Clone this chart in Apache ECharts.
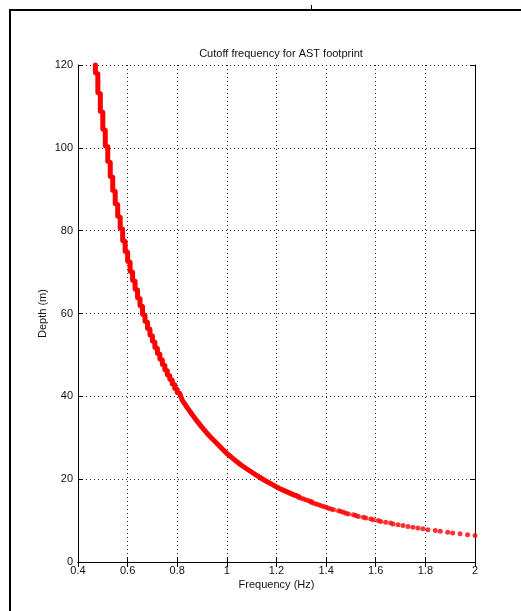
<!DOCTYPE html>
<html>
<head>
<meta charset="utf-8">
<script src="https://cdn.jsdelivr.net/npm/echarts@6/dist/echarts.min.js"></script>
<style>
html,body{margin:0;padding:0;background:#fff;}
#chart{width:521px;height:611px;}
</style>
</head>
<body>
<div id="chart"></div>
<script>
// ---- Data ----
const titleText = 'Cutoff frequency for AST footprint';
const xName = 'Frequency (Hz)';
const yName = 'Depth (m)';
const xTicks = [0.4, 0.6, 0.8, 1, 1.2, 1.4, 1.6, 1.8, 2];
const yTicks = [0, 20, 40, 60, 80, 100, 120];

// dense (overlapping) part of the curve: frequency (Hz) and depth (m)
const bandFreq = [0.47,0.47,0.48,0.48,0.49,0.49,0.50,0.50,0.51,0.51,0.52,0.52,0.53,0.53,0.54,0.54,0.55,0.55,0.56,0.56,0.57,0.57,0.58,0.58,0.59,0.59,0.60,0.60,0.61,0.61,0.62,0.62,0.63,0.63,0.64,0.64,0.65,0.65,0.66,0.66,0.67,0.67,0.68,0.68,0.69,0.69,0.70,0.70,0.71,0.71,0.72,0.72,0.73,0.73,0.74,0.74,0.75,0.75,0.76,0.76,0.77,0.77,0.78,0.78,0.79,0.79,0.80,0.80,0.81,
  0.82,0.84,0.86,0.88,0.90,0.92,0.94,0.96,0.98,1.00,1.03,1.06,1.09,1.12,1.15,1.18,1.21,1.24,1.27,1.28];
const bandDepth = [120,118.1,117.9,113.3,113.1,108.8,108.6,104.5,104.3,100.5,100.3,96.7,96.5,93.1,92.9,89.7,89.5,86.5,86.3,83.5,83.3,80.6,80.4,77.6,77.4,75.0,74.8,72.6,72.4,70.2,70.0,68.0,67.8,65.9,65.7,63.8,63.6,61.9,61.7,59.8,59.6,58.1,57.9,56.4,56.2,54.8,54.6,53.3,53.1,51.8,51.6,50.4,50.2,49.0,48.8,47.7,47.5,46.4,46.2,45.2,45.0,44.1,43.9,43.0,42.8,41.9,41.7,40.9,40.7,
  39.1,37.3,35.6,34.0,32.5,31.1,29.8,28.6,27.4,26.2,24.7,23.3,22.1,20.9,19.8,18.8,17.8,17.0,16.2,16.0];

// shallow part where the individual samples are visible
const dotDepth = [16.0,15.8,15.6,15.4,15.2,15.0,14.8,14.6,14.4,14.2,14.0,13.8,13.6,13.4,13.2,13.0,12.8,12.6,12.4,12.2,12.0,11.8,11.6,11.4,11.2,11.0,10.8,10.6,10.4,10.2,10.0,9.8,9.6,9.4,9.2,9.0,8.8,8.6,8.4,8.2,8.0,7.8,7.6,7.4,7.2,7.0,6.8,6.6,6.4];
const dotFreq = [1.28,1.29,1.29,1.30,1.31,1.32,1.33,1.34,1.34,1.35,1.36,1.37,1.38,1.39,1.40,1.41,1.42,1.43,1.45,1.46,1.47,1.48,1.49,1.51,1.52,1.53,1.55,1.56,1.58,1.59,1.61,1.62,1.64,1.66,1.67,1.69,1.71,1.73,1.75,1.77,1.79,1.81,1.84,1.86,1.89,1.91,1.94,1.97,2.00];

// ---- Chart ----
const FONT = 'Liberation Sans, Arial, sans-serif';
const bandData = bandFreq.map((f, i) => [f, bandDepth[i]]);
const dotData = dotFreq.map((f, i) => [f, dotDepth[i]]);

const xMin = xTicks[0], xMax = xTicks[xTicks.length - 1], xInt = xTicks[1] - xTicks[0];
const yMin = yTicks[0], yMax = yTicks[yTicks.length - 1], yInt = yTicks[1] - yTicks[0];

const axisLine = {show: true, lineStyle: {color: '#000', width: 1}};
const gridLine = {show: true, lineStyle: {color: '#222', width: 1, type: [1, 3]}};
const tick = {show: true, inside: true, length: 5, lineStyle: {color: '#000'}};
const lbl = {color: '#111', fontSize: 11, fontFamily: FONT};

const chart = echarts.init(document.getElementById('chart'), null, {renderer: 'canvas'});
chart.setOption({
  animation: false,
  backgroundColor: '#fff',
  title: {
    text: titleText, left: 276, top: 43, textAlign: 'center',
    textStyle: {fontSize: 11, fontWeight: 'normal', color: '#111', fontFamily: FONT}
  },
  grid: {left: 78, right: 46, top: 65, bottom: 49, containLabel: false},
  xAxis: [{
    type: 'value', min: xMin, max: xMax, interval: xInt, position: 'bottom',
    name: xName, nameLocation: 'middle', nameGap: 17, nameMoveOverlap: false,
    nameTextStyle: lbl,
    axisLine: axisLine, axisTick: tick, splitLine: gridLine,
    axisLabel: Object.assign({margin: 3, formatter: v => String(+v.toFixed(1))}, lbl)
  }, {
    type: 'value', min: xMin, max: xMax, interval: xInt, position: 'top',
    axisLine: axisLine, axisTick: tick, splitLine: {show: false}, axisLabel: {show: false}
  }],
  yAxis: [{
    type: 'value', min: yMin, max: yMax, interval: yInt, position: 'left',
    name: yName, nameLocation: 'middle', nameGap: 30, nameRotate: 90, nameMoveOverlap: false,
    nameTextStyle: lbl,
    axisLine: axisLine, axisTick: tick, splitLine: gridLine,
    axisLabel: Object.assign({margin: 5}, lbl)
  }, {
    type: 'value', min: yMin, max: yMax, interval: yInt, position: 'right',
    axisLine: axisLine, axisTick: tick, splitLine: {show: false}, axisLabel: {show: false}
  }],
  series: [{
    type: 'line', data: bandData, showSymbol: false, symbol: 'none', clip: false,
    lineStyle: {color: '#ff0000', width: 5, join: 'round', cap: 'round'}, z: 5
  }, {
    type: 'scatter', data: dotData, symbol: 'circle', symbolSize: 5, clip: false,
    itemStyle: {color: '#ff0000'}, z: 5
  }],
  graphic: [
    {type: 'line', shape: {x1: 10, y1: 10, x2: 521, y2: 10}, style: {stroke: '#000', lineWidth: 2}},
    {type: 'line', shape: {x1: 10, y1: 9, x2: 10, y2: 611}, style: {stroke: '#000', lineWidth: 2}},
    {type: 'line', shape: {x1: 311.5, y1: 5, x2: 311.5, y2: 10}, style: {stroke: '#000', lineWidth: 1}}
  ]
});
</script>
</body>
</html>
